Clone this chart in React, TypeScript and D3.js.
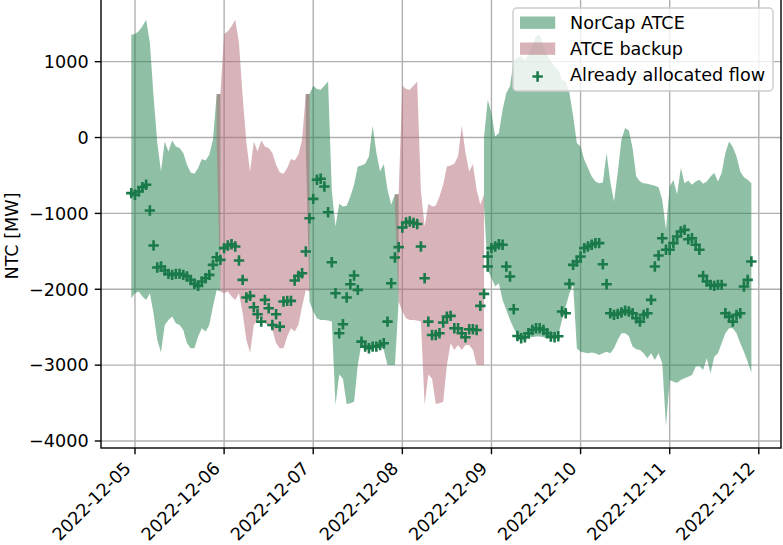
import React, { useEffect } from 'react';
import * as d3 from 'd3';

// ---------- data (hourly) ----------
const xTickDates = ['2022-12-05', '2022-12-06', '2022-12-07', '2022-12-08', '2022-12-09', '2022-12-10', '2022-12-11', '2022-12-12'];
const yTicks = [1000, 0, -1000, -2000, -3000, -4000];

// NorCap ATCE, delivery day 2022-12-05 (hourly from 2022-12-04 23:00 UTC)
const norcap1Start = '2022-12-04T23:00:00Z';
const norcap1Upper = [1356, 1365, 1400, 1466, 1554, 1250, 540, -70, -447, -51, -183, -38, -117, -139, -205, -359, -460, -478, -403, -284, -302, -227, -29, 574, 574];
const norcap1Lower = [-2118, -2052, -2030, -2096, -2140, -2052, -2316, -2668, -2835, -2470, -2404, -2360, -2448, -2470, -2536, -2712, -2778, -2778, -2624, -2514, -2558, -2470, -2228, -2008, -2030];

// ATCE backup, 2022-12-06
const backup2Start = '2022-12-05T22:00:00Z';
const backup2Upper = [574, 574, 1365, 1400, 1466, 1554, 1250, 540, -70, -447, -51, -183, -38, -117, -139, -205, -359, -460, -478, -403, -284, -302, -227, -29, 574, 574];
const backup2Lower = [-100, -2030, -2052, -2030, -2096, -2140, -2052, -2316, -2668, -2835, -2470, -2404, -2360, -2448, -2470, -2536, -2712, -2778, -2778, -2624, -2514, -2558, -2470, -2228, -2008, -2030];

// NorCap ATCE, 2022-12-07
const norcap3Start = '2022-12-06T22:00:00Z';
const norcap3Upper = [574, 574, 683, 639, 630, 683, 740, -700, -1173, -874, -909, -900, -777, -623, -381, -368, -346, -249, 156, -196, -447, -350, -689, -887, -746, -746];
const norcap3Lower = [-100, -2162, -2294, -2382, -2404, -2404, -2413, -2426, -3525, -3125, -3180, -3512, -3503, -3482, -2998, -2712, -2800, -2734, -2800, -2734, -2734, -2800, -2998, -2998, -2998, -2162];

// ATCE backup, 2022-12-08
const backup4Start = '2022-12-07T22:00:00Z';
const backup4Upper = [-746, -746, 683, 639, 630, 683, 740, -700, -1173, -874, -909, -900, -777, -623, -381, -368, -346, -249, 156, -196, -447, -350, -689, -887, -746];
const backup4Lower = [-900, -2162, -2294, -2382, -2404, -2404, -2413, -2426, -3525, -3125, -3180, -3512, -3503, -3482, -2998, -2712, -2800, -2734, -2800, -2734, -2734, -2800, -2998, -2998, -2998];

// NorCap ATCE, 2022-12-09 .. 2022-12-11
const norcap5Start = '2022-12-08T22:00:00Z';
const norcap5Upper = [0, 499, 323, 15, 59, 367, 587, 675, 1026, 1048, 1070, 1026, 1092, 1224, 1334, 1356, 1202, 1092, 1004, 938, 894, 762, 740, 587, 279, -73,
  -117, -293, -403, -513, -579, -601, -592, -205, -579, -843, -469, -29, 125, 94, -139, -513, -579, -601, -610, -623, -636, -654, -821, -1217,
  -645, -560, -750, -400, -601, -566, -623, -579, -557, -610, -579, -513, -469, -579, -469, -205, -51, -126, -249, -447, -522, -557, -601];
const norcap5Lower = [-909, -1750, -1850, -1960, -1920, -2140, -2272, -2404, -2514, -2602, -2624, -2633, -2624, -2633, -2624, -2624, -2633, -2646, -2646, -2646, -2602, -2404, -2228, -2052, -1942, -2778,
  -2822, -2835, -2844, -2835, -2844, -2866, -2844, -2822, -2844, -2778, -2668, -2580, -2580, -2615, -2756, -2791, -2800, -2844, -2910, -2844, -2932, -2844, -2976, -3803,
  -3196, -3218, -3231, -3196, -3174, -3152, -3130, -3020, -3011, -3064, -2910, -3108, -2888, -2844, -2712, -2580, -2514, -2514, -2580, -2712, -2822, -2954, -3099];

// Already allocated flow (hourly)
const flow1Start = '2022-12-04T23:00:00Z';
const flow1 = [-733, -755, -711, -654, -623, -962, -1423, -1714, -1700, -1753, -1797, -1810, -1797, -1797, -1810, -1832, -1876, -1929, -1955, -1898, -1854, -1810, -1678, -1577, -1612];
const flow2Start = '2022-12-06T00:00:00Z';
const flow2 = [-1458, -1423, -1406, -1436, -1621, -1876, -2109, -2087, -2237, -2329, -2426, -2140, -2250, -2470, -2329, -2492, -2162, -2153, -2153, -1885, -1823, -1788, -1502];
const flow3Start = '2022-12-06T23:00:00Z';
const flow3 = [-1063, -808, -557, -544, -645, -984, -1643, -2052, -2580, -2461, -2109, -1933, -1819, -2008, -2690, -2756, -2778, -2756, -2756, -2734, -2712, -2426, -1920, -1582];
const flow4Start = '2022-12-07T23:00:00Z';
const flow4 = [-1445, -1186, -1120, -1107, -1125, -1140, -1436, -1855, -2426, -2602, -2602, -2580, -2439, -2360, -2351, -2514, -2514, -2580, -2633, -2527, -2527, -2536, -2219, -2061, -1568];
const flow5Start = '2022-12-08T23:00:00Z';
const flow5 = [-1700, -1458, -1436, -1406, -1414, -1700, -1832, -2263, -2615, -2646, -2633, -2580, -2536, -2514, -2514, -2536, -2580, -2624, -2633, -2620, -2294, -2316, -1929, -1678,
  -1634, -1568, -1458, -1436, -1414, -1392, -1392, -1670, -1933, -2316, -2338, -2325, -2307, -2281, -2294, -2316, -2382, -2426, -2338, -2316, -2140, -1700, -1555, -1327,
  -1480, -1480, -1392, -1305, -1239, -1217, -1340, -1327, -1414, -1480, -1823, -1898, -1942, -1955, -1942, -1942, -2316, -2360, -2426, -2338, -2316, -1964, -1876, -1634];

const legendLabels = ['NorCap ATCE', 'ATCE backup', 'Already allocated flow'];

// ---------- styling ----------
const W = 783;
const H = 545;
const plot = { left: 101, right: 781, top: -1, bottom: 448 };
const FONT = 'DejaVu Sans, sans-serif';
const FS = 17.6;
const GREEN = '#1f7f4b';
const PINK = '#b16975';
const MARK = '#1a7a4a';

const HOUR = 3600 * 1000;
type Pt = { t: Date; hi: number; lo: number };
function band(start: string, upper: number[], lower: number[]): Pt[] {
  const s = new Date(start).getTime();
  return upper.map((u, i) => ({ t: new Date(s + i * HOUR), hi: u, lo: lower[i] }));
}
function pts(start: string, vals: number[]) {
  const s = new Date(start).getTime();
  return vals.map((v, i) => ({ t: new Date(s + i * HOUR), v }));
}

export default function App() {
  useEffect(() => {
    document.body.style.margin = '0';
  }, []);

  const x = d3.scaleUtc()
    .domain([new Date('2022-12-05T00:00:00Z'), new Date('2022-12-12T00:00:00Z')])
    .range([135, 758.8]);
  const y = d3.scaleLinear().domain([1000, -4000]).range([61.67, 441]);

  const area = d3.area<Pt>().x(d => x(d.t)).y0(d => y(d.lo)).y1(d => y(d.hi));

  const greens = [band(norcap1Start, norcap1Upper, norcap1Lower), band(norcap3Start, norcap3Upper, norcap3Lower), band(norcap5Start, norcap5Upper, norcap5Lower)];
  const pinks = [band(backup2Start, backup2Upper, backup2Lower), band(backup4Start, backup4Upper, backup4Lower)];
  const flows = [
    ...pts(flow1Start, flow1), ...pts(flow2Start, flow2), ...pts(flow3Start, flow3), ...pts(flow4Start, flow4), ...pts(flow5Start, flow5),
  ];

  const xt = xTickDates.map(d => new Date(d + 'T00:00:00Z'));
  const plus = (cx: number, cy: number, key: string | number, r = 5.2) => (
    <path key={key} d={`M${cx - r},${cy}H${cx + r}M${cx},${cy - r}V${cy + r}`} stroke={MARK} strokeWidth={2.6} fill="none" />
  );

  const lx = 513, ly = 8;
  return (
    <svg width={W} height={H} style={{ position: 'absolute', left: 0, top: 0, background: '#fff' }} fontFamily={FONT}>
      <defs>
        <clipPath id="clip"><rect x={plot.left} y={plot.top} width={plot.right - plot.left} height={plot.bottom - plot.top} /></clipPath>
      </defs>
      <rect x={0} y={0} width={W} height={H} fill="#fff" />
      {/* grid */}
      <g stroke="#b0b0b0" strokeWidth={1.4}>
        {xt.map((d, i) => <line key={'gx' + i} x1={x(d)} x2={x(d)} y1={plot.top} y2={plot.bottom} />)}
        {yTicks.map((v, i) => <line key={'gy' + i} x1={plot.left} x2={plot.right} y1={y(v)} y2={y(v)} />)}
      </g>
      <g clipPath="url(#clip)">
        {greens.map((s, i) => <path key={'g' + i} d={area(s) || ''} fill={GREEN} fillOpacity={0.5} />)}
        {pinks.map((s, i) => <path key={'p' + i} d={area(s) || ''} fill={PINK} fillOpacity={0.5} />)}
        {flows.map((p, i) => plus(x(p.t), y(p.v), i))}
      </g>
      {/* spines */}
      <g stroke="#000" strokeWidth={1.4} fill="none">
        <rect x={plot.left} y={plot.top} width={plot.right - plot.left} height={plot.bottom - plot.top} />
      </g>
      {/* y ticks */}
      <g fontSize={FS} fill="#000">
        {yTicks.map((v, i) => (
          <g key={'yt' + i}>
            <line x1={plot.left - 6.2} x2={plot.left} y1={y(v)} y2={y(v)} stroke="#000" strokeWidth={1.4} />
            <text x={plot.left - 12.4} y={y(v)} dy="0.36em" textAnchor="end">{v < 0 ? '\u2212' + Math.abs(v) : String(v)}</text>
          </g>
        ))}
      </g>
      {/* x ticks */}
      <g fontSize={FS} fill="#000">
        {xt.map((d, i) => (
          <g key={'xt' + i}>
            <line x1={x(d)} x2={x(d)} y1={plot.bottom} y2={plot.bottom + 6.2} stroke="#000" strokeWidth={1.4} />
            <text transform={`translate(${x(d) - 3},${plot.bottom + 21.5}) rotate(-45)`} textAnchor="end">{xTickDates[i]}</text>
          </g>
        ))}
      </g>
      <text transform={`translate(18,236) rotate(-90)`} textAnchor="middle" fontSize={FS}>NTC [MW]</text>
      {/* legend */}
      <g>
        <rect x={lx} y={ly} width={260} height={83} rx={4} fill="#fff" fillOpacity={0.8} stroke="#cccccc" strokeWidth={1.4} />
        <rect x={520} y={16.5} width={35.2} height={12.3} fill={GREEN} fillOpacity={0.5} />
        <rect x={520} y={42.5} width={35.2} height={12.3} fill={PINK} fillOpacity={0.5} />
        {plus(537.6, 76.5, 'lg')}
        {legendLabels.map((l, i) => (
          <text key={'lt' + i} x={570} y={29 + i * 26} fontSize={FS}>{l}</text>
        ))}
      </g>
    </svg>
  );
}
